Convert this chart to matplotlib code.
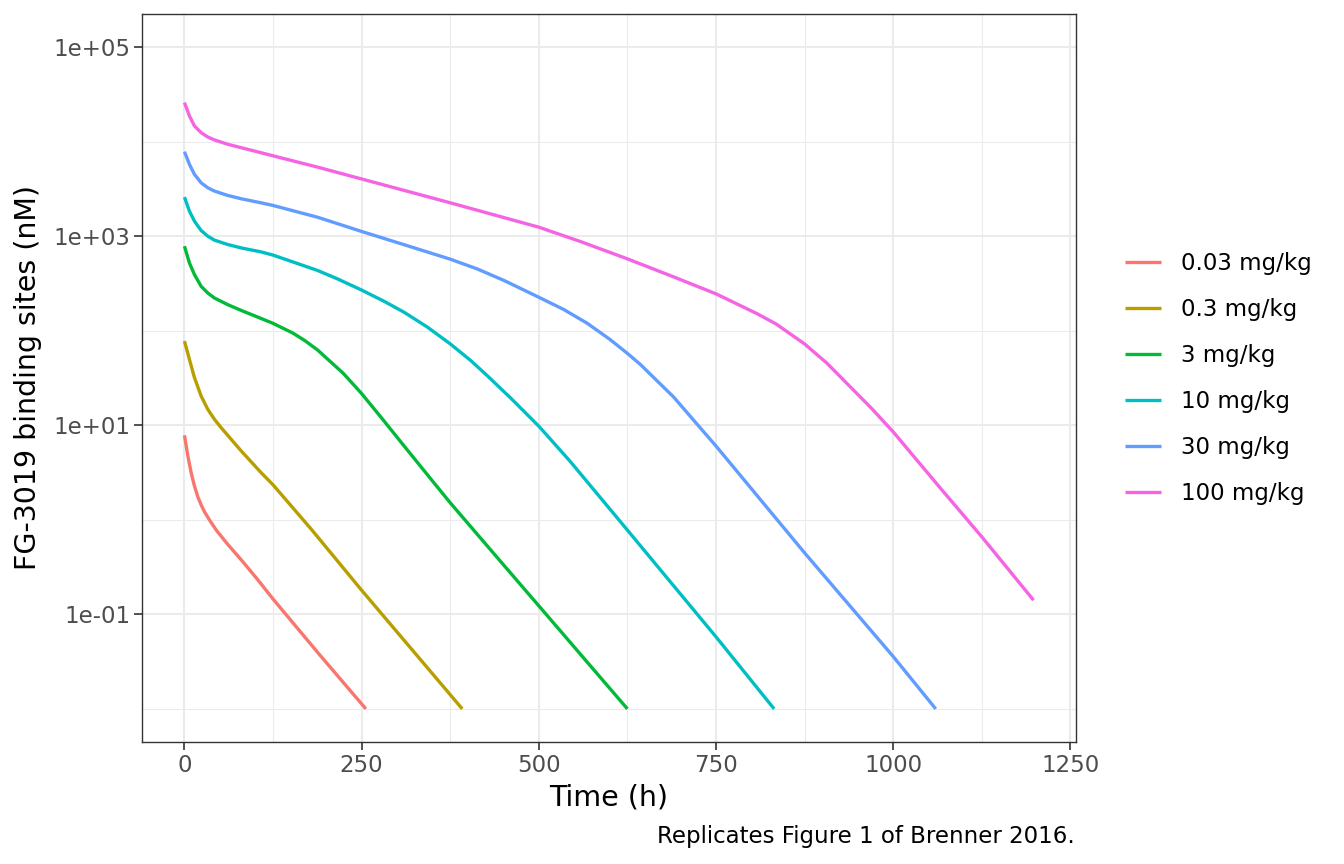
import numpy as np
import matplotlib
matplotlib.use('Agg')
import matplotlib.pyplot as plt

# values (time in h, log10 of concentration in nM)
doses = ['0.03 mg/kg', '0.3 mg/kg', '3 mg/kg', '10 mg/kg', '30 mg/kg', '100 mg/kg']
colors = ['#F8766D', '#B79F00', '#00BA38', '#00BFC4', '#619CFF', '#F564E3']

t_003 = [0, 4.7, 9.4, 14, 19, 24, 29, 36, 45, 60, 82, 103, 125, 191, 256]
l_003 = [0.894, 0.68, 0.50, 0.36, 0.24, 0.15, 0.075, -0.01, -0.11, -0.25, -0.44, -0.63,
         -0.838, -1.43, -2.0]

t_03 = [0, 7, 14.1, 23.5, 32.9, 42.3, 51.7, 61, 80, 108, 125, 179, 250, 392]
l_03 = [1.891, 1.697, 1.504, 1.31, 1.169, 1.063, 0.975, 0.894, 0.729, 0.5, 0.37, -0.10,
        -0.745, -2.0]

t_3 = [0, 7, 14.1, 23.5, 32.9, 42.3, 61, 80, 108, 125, 153, 170, 188, 224, 250, 280, 310,
       350, 375, 446, 500, 625]
l_3 = [2.894, 2.717, 2.594, 2.47, 2.399, 2.346, 2.276, 2.215, 2.13, 2.078, 1.975, 1.895,
       1.795, 1.55, 1.335, 1.06, 0.78, 0.41, 0.18, -0.44, -0.91, -2.0]

t_10 = [0, 7, 14.1, 23.5, 32.9, 42.3, 61, 80, 108, 125, 188, 216, 250, 282, 310, 343, 375,
        404, 427, 460, 500, 544, 625, 750, 832]
l_10 = [3.413, 3.265, 3.159, 3.06, 3.0, 2.958, 2.912, 2.876, 2.834, 2.80, 2.637, 2.548,
        2.43, 2.31, 2.195, 2.037, 1.861, 1.684, 1.526, 1.29, 0.99, 0.62, -0.109, -1.238,
        -2.0]

t_30 = [0, 7, 14.1, 23.5, 32.9, 42.3, 61, 80, 108, 125, 188, 250, 312, 375, 413, 451, 500,
        535, 568, 600, 625, 643, 690, 750, 875, 1000, 1060]
l_30 = [3.894, 3.76, 3.654, 3.565, 3.512, 3.477, 3.431, 3.396, 3.353, 3.325, 3.20, 3.05,
        2.905, 2.757, 2.654, 2.531, 2.354, 2.225, 2.08, 1.91, 1.76, 1.645, 1.30, 0.78,
        -0.35, -1.446, -2.0]

t_100 = [0, 7, 14.1, 23.5, 32.9, 42.3, 61, 80, 108, 125, 188, 250, 375, 500, 560, 625, 690,
         750, 808, 835, 875, 906, 935, 968, 1000, 1066, 1125, 1198]
l_100 = [4.413, 4.272, 4.166, 4.095, 4.049, 4.018, 3.972, 3.936, 3.883, 3.85, 3.73, 3.605,
         3.353, 3.095, 2.94, 2.76, 2.57, 2.39, 2.18, 2.07, 1.86, 1.66, 1.44, 1.19, 0.93,
         0.34, -0.18, -0.85]

times = [t_003, t_03, t_3, t_10, t_30, t_100]
logs = [l_003, l_03, l_3, l_10, l_30, l_100]

plt.rcParams['font.family'] = 'DejaVu Sans'

W, H = 1344, 864
fig = plt.figure(figsize=(W / 100, H / 100), dpi=100)
ax = fig.add_axes([142 / W, 1 - 742 / H, (1076 - 142) / W, (742 - 14) / H])

for t, l, c, lab in zip(times, logs, colors, doses):
    ax.plot(t, 10 ** np.array(l), color=c, lw=2.4, label=lab, solid_capstyle='butt',
            solid_joinstyle='round')

ax.set_yscale('log')
ax.set_xlim(-59.9, 1257.9)
ax.set_ylim(10 ** -2.35, 10 ** 5.35)

ax.set_xticks([0, 250, 500, 750, 1000, 1250])
ax.set_xticks([125, 375, 625, 875, 1125], minor=True)
ax.set_yticks([1e-1, 1e1, 1e3, 1e5])
ax.set_yticklabels(['1e-01', '1e+01', '1e+03', '1e+05'])
ax.set_yticks([1e-2, 1e0, 1e2, 1e4], minor=True)
ax.set_yticklabels([], minor=True)

ax.grid(which='major', color='#EBEBEB', lw=1.5)
ax.grid(which='minor', color='#EBEBEB', lw=0.75)
ax.set_axisbelow(True)
ax.tick_params(which='major', length=5.5, width=1.2, color='#333333',
               labelcolor='#4D4D4D', labelsize=16.5, pad=3)
ax.tick_params(which='minor', length=0)
for s in ax.spines.values():
    s.set_color('#333333')
    s.set_linewidth(1.0)

ax.set_xlabel('Time (h)', fontsize=20.5, labelpad=5)
ax.set_ylabel('FG-3019 binding sites (nM)', fontsize=20.5, labelpad=8)

fig.legend(loc='center left', bbox_to_anchor=(1125 / W, 1 - 378.5 / H), frameon=False,
           fontsize=16.5, handlelength=1.57, handletextpad=0.87, labelspacing=1.0,
           borderaxespad=0, borderpad=0)

fig.text(1075 / W, 1 - 837 / H, 'Replicates Figure 1 of Brenner 2016.', ha='right',
         va='center', fontsize=16.5)

fig.savefig('out.png', dpi=100)
